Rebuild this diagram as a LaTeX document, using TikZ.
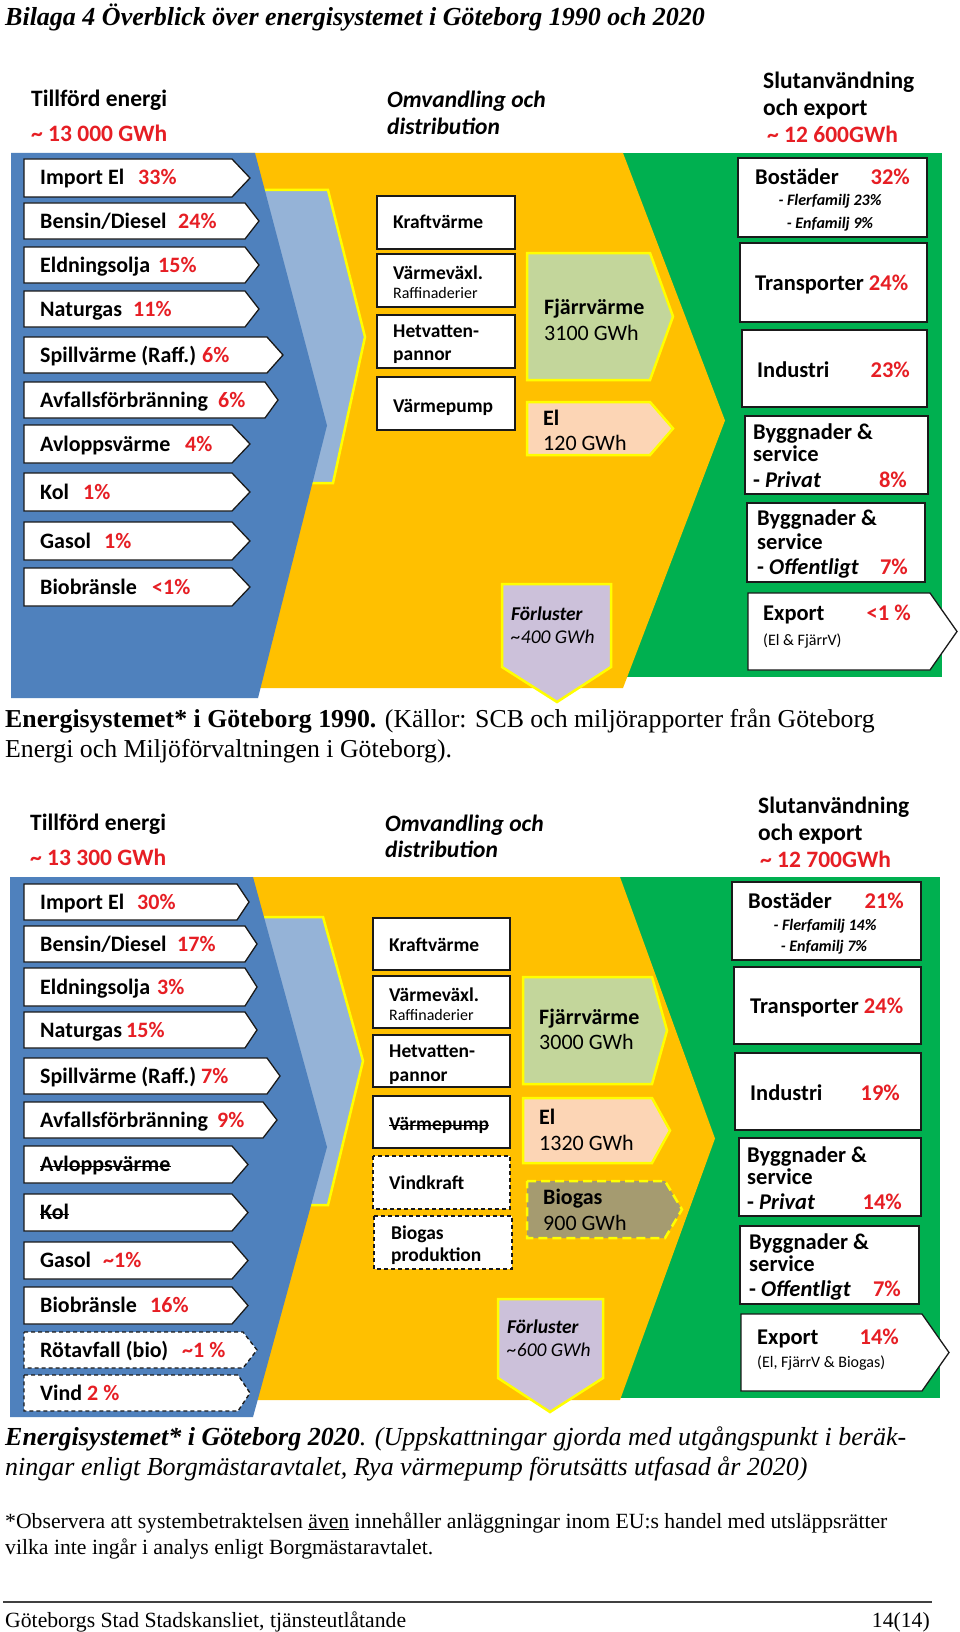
\documentclass[tikz,border=0pt]{standalone}
\usepackage{fontspec}
\setmainfont{Liberation Serif}
\newfontfamily\calf{Carlito}
\definecolor{dblue}{HTML}{4F81BD}
\definecolor{lblue}{HTML}{95B3D7}
\definecolor{gold}{HTML}{FFC000}
\definecolor{grn}{HTML}{00B050}
\definecolor{yel}{HTML}{FFFF00}
\definecolor{fjv}{HTML}{C3D69B}
\definecolor{elc}{HTML}{FCD5B5}
\definecolor{bioc}{HTML}{A59B70}
\definecolor{lav}{HTML}{CCC1DA}
\definecolor{pct}{RGB}{230,30,36}
\definecolor{boxline}{HTML}{1A1A1A}
\tikzset{
  inbox/.style={fill=white, draw=boxline, line width=1.3pt},
  mbox/.style={fill=white, draw=boxline, line width=1.3pt},
  rbox/.style={fill=white, draw=boxline, line width=1.3pt},
  dashbox/.style={dash pattern=on 4pt off 3pt},
  lbl/.style={inner sep=0pt, anchor=base west, font={\calf\bfseries\fontsize{22}{24}\selectfont}},
  rlbl/.style={inner sep=0pt, anchor=base west, font={\calf\bfseries\fontsize{22.5}{24}\selectfont}},
  pctlbl/.style={lbl, text=pct},
  rpct/.style={rlbl, text=pct, anchor=base east},
  hdr/.style={inner sep=0pt, anchor=base west, font={\calf\bfseries\fontsize{23.5}{28}\selectfont}},
  hdri/.style={hdr, font={\calf\bfseries\itshape\fontsize{23.5}{28}\selectfont}},
  midt/.style={inner sep=0pt, anchor=base west, font={\calf\bfseries\fontsize{19.5}{21}\selectfont}},
  smallt/.style={inner sep=0pt, anchor=base west, font={\calf\fontsize{16}{18}\selectfont}},
  flowb/.style={inner sep=0pt, anchor=base west, font={\calf\bfseries\fontsize{22}{25}\selectfont}},
  flowr/.style={inner sep=0pt, anchor=base west, font={\calf\fontsize{22}{25}\selectfont}},
  lossb/.style={inner sep=0pt, anchor=base west, font={\calf\bfseries\itshape\fontsize{19.5}{22}\selectfont}},
  lossr/.style={inner sep=0pt, anchor=base west, font={\calf\itshape\fontsize{19.5}{22}\selectfont}},
  subt/.style={inner sep=0pt, anchor=base, font={\calf\bfseries\itshape\fontsize{16}{18}\selectfont}},
  expt/.style={inner sep=0pt, anchor=base west, font={\calf\fontsize{16}{18}\selectfont}},
  yb/.style={draw=yel, line width=2.5pt},
  strike/.style={line width=1.3pt, draw=black},
  captxt/.style={inner sep=0pt, anchor=base west, font={\fontsize{25.8}{30}\selectfont}},
  captxtb/.style={inner sep=0pt, anchor=base west, font={\fontsize{26}{30}\selectfont}},
  foottxt/.style={inner sep=0pt, anchor=base west, font={\fontsize{21.7}{25}\selectfont}},
}
% name, ytop, ybot, rect end x, tip x, extra style, label, pct x, pct
\newcommand\InArrow[9]{%
  \path[inbox,#6] (24,#2) -- (#4,#2) -- (#5,{(#2+#3)/2}) -- (#4,#3) -- (24,#3) -- cycle;
  \node[lbl] (#1) at (40,{(#2+#3)/2+7}) {#7};
  \node[pctlbl] (#1p) at (#8,{(#2+#3)/2+7}) {#9};
}
\begin{document}
\begin{tikzpicture}[x=1pt,y=-1pt]
\useasboundingbox (0,0) rectangle (960,1632);
\fill[white] (0,0) rectangle (960,1632);

% ---------- title ----------
\node[inner sep=0pt, anchor=base west, font={\bfseries\itshape\fontsize{26}{30}\selectfont}] (title) at (5,26)
  {Bilaga 4 Överblick över energisystemet i Göteborg 1990 och 2020};

% ================= 1990 =================
\node[hdr] (t-h1) at (31,107) {Tillförd energi};
\node[hdr, text=pct] (t-h1v) at (31,142) {\textasciitilde\ 13 000 GWh};
\node[hdri] (t-h2) at (387,108) {Omvandling och};
\node[hdri] (t-h2b) at (387,135) {distribution};
\node[hdr] (t-h3) at (763,89) {Slutanvändning};
\node[hdr] (t-h3b) at (763,116) {och export};
\node[hdr, text=pct] (t-h3v) at (767,143) {\textasciitilde\ 12 600GWh};

\fill[grn] (600,153) rectangle (942,677);
\fill[gold] (240,153) -- (623,153) -- (725,420.5) -- (623,688) -- (240,688) -- cycle;
\fill[lblue] (240,190) -- (328,190) -- (365,337) -- (333,483) -- (240,483) -- cycle;
\draw[yb] (240,190) -- (328,190) -- (365,337) -- (333,483) -- (240,483);
\fill[dblue] (11,153) -- (255,153) -- (327,425.5) -- (258,698) -- (11,698) -- cycle;

\InArrow{t-imp}{159}{197}{232}{250}{}{Import El}{138}{33\%}
\InArrow{t-ben}{203}{239}{245}{259}{}{Bensin/Diesel}{178}{24\%}
\InArrow{t-eld}{247}{283}{245}{259}{}{Eldningsolja}{158}{15\%}
\InArrow{t-nat}{291}{327}{245}{259}{}{Naturgas}{133}{11\%}
\InArrow{t-spi}{337}{373}{267}{283}{}{Spillvärme (Raff.)}{202}{6\%}
\InArrow{t-avf}{382}{418}{265}{278}{}{Avfallsförbränning}{218}{6\%}
\InArrow{t-avl}{425}{463}{232}{250}{}{Avloppsvärme}{185}{4\%}
\InArrow{t-kol}{473}{511}{232}{250}{}{Kol}{83}{1\%}
\InArrow{t-gas}{522}{560}{232}{250}{}{Gasol}{104}{1\%}
\InArrow{t-bio}{568}{606}{232}{250}{}{Biobränsle}{152}{<1\%}

\path[mbox] (377,196) rectangle (515,249);
\path[mbox] (377,254) rectangle (515,307);
\path[mbox] (377,315) rectangle (515,368);
\path[mbox] (377,377) rectangle (515,430);
\node[midt] (t-kv) at (393,229) {Kraftvärme};
\node[midt] (t-vv) at (393,279) {Värmeväxl.};
\node[smallt] (t-raf) at (393,298) {Raffinaderier};
\node[midt] (t-hv) at (393,337) {Hetvatten-};
\node[midt] (t-pa) at (393,360) {pannor};
\node[midt] (t-vp) at (393,412) {Värmepump};

\path[fill=fjv, yb] (527,253) -- (650,253) -- (673,316.5) -- (650,380) -- (527,380) -- cycle;
\node[flowb] (t-fj) at (544,314) {Fjärrvärme};
\node[flowr] (t-fjv) at (544,340) {3100 GWh};
\path[fill=elc, yb] (527,402) -- (650,402) -- (673,428.5) -- (650,455) -- (527,455) -- cycle;
\node[flowb] (t-el) at (543,425) {El};
\node[flowr] (t-elv) at (543,450) {120 GWh};

\path[fill=lav, yb] (502,584) -- (611,584) -- (611,667) -- (557,702) -- (502,667) -- cycle;
\node[lossb] (t-fl) at (511,620) {Förluster};
\node[lossr] (t-flv) at (511,643) {\textasciitilde 400 GWh};

\path[rbox] (738,158) rectangle (927,237);
\node[rlbl] (t-bos) at (755,185) {Bostäder};
\node[rpct] (t-bosp) at (910,185) {32\%};
\node[subt] (t-fler) at (830,206) {- Flerfamilj 23\%};
\node[subt] (t-enf) at (830,228) {- Enfamilj 9\%};
\path[rbox] (740,243) rectangle (927,322);
\node[rlbl] (t-tra) at (755,290) {Transporter \textcolor{pct}{24\%}};
\path[rbox] (742,330) rectangle (927,407);
\node[rlbl] (t-ind) at (757,377) {Industri};
\node[rpct] (t-indp) at (910,377) {23\%};
\path[rbox] (745,416) rectangle (928,494);
\node[rlbl] (t-pr1) at (753,439) {Byggnader \&};
\node[rlbl] (t-pr2) at (753,461) {service};
\node[rlbl] (t-pr3) at (753,487) {- \textit{Privat}};
\node[rpct] (t-prp) at (907,487) {8\%};
\path[rbox] (747,503) rectangle (925,582);
\node[rlbl] (t-of1) at (757,525) {Byggnader \&};
\node[rlbl] (t-of2) at (757,549) {service};
\node[rlbl] (t-of3) at (757,574) {- \textit{Offentligt}};
\node[rpct] (t-ofp) at (908,574) {7\%};
\path[rbox] (748,593) -- (930,593) -- (957,631.5) -- (930,670) -- (748,670) -- cycle;
\node[rlbl] (t-ex) at (763,620) {Export};
\node[rpct] (t-exp) at (911,620) {<1 \%};
\node[expt] (t-exs) at (763,645) {(El \& FjärrV)};

\node[captxt] (c1a) at (5,727) {\textbf{Energisystemet* i Göteborg 1990.} (Källor: SCB och miljörapporter från Göteborg};
\node[captxt] (c1b) at (5,757) {Energi och Miljöförvaltningen i Göteborg).};

% ================= 2020 =================
\node[hdr] (b-h1) at (30,830) {Tillförd energi};
\node[hdr, text=pct] (b-h1v) at (30,865) {\textasciitilde\ 13 300 GWh};
\node[hdri] (b-h2) at (385,831) {Omvandling och};
\node[hdri] (b-h2b) at (385,857) {distribution};
\node[hdr] (b-h3) at (758,813) {Slutanvändning};
\node[hdr] (b-h3b) at (758,840) {och export};
\node[hdr, text=pct] (b-h3v) at (760,867) {\textasciitilde\ 12 700GWh};

\fill[grn] (600,877) rectangle (940,1398);
\fill[gold] (240,877) -- (620,877) -- (715,1138.5) -- (620,1400) -- (240,1400) -- cycle;
\fill[lblue] (240,917) -- (323,917) -- (363,1061) -- (328,1205) -- (240,1205) -- cycle;
\draw[yb] (240,917) -- (323,917) -- (363,1061) -- (328,1205) -- (240,1205);
\fill[dblue] (10,877) -- (253,877) -- (327,1147) -- (253,1417) -- (10,1417) -- cycle;

\InArrow{b-imp}{884}{920}{237}{249}{}{Import El}{137}{30\%}
\InArrow{b-ben}{926}{962}{245}{257}{}{Bensin/Diesel}{177}{17\%}
\InArrow{b-eld}{968}{1006}{245}{257}{}{Eldningsolja}{157}{3\%}
\InArrow{b-nat}{1012}{1048}{245}{257}{}{Naturgas}{126}{15\%}
\InArrow{b-spi}{1058}{1094}{267}{280}{}{Spillvärme (Raff.)}{201}{7\%}
\InArrow{b-avf}{1102}{1138}{263}{277}{}{Avfallsförbränning}{217}{9\%}
\InArrow{b-avl}{1146}{1183}{232}{248}{}{Avloppsvärme}{185}{}
\InArrow{b-kol}{1194}{1231}{232}{248}{}{Kol}{83}{}
\InArrow{b-gas}{1242}{1279}{232}{248}{}{Gasol}{103}{\textasciitilde 1\%}
\InArrow{b-bio}{1287}{1324}{232}{248}{}{Biobränsle}{150}{16\%}
\InArrow{b-rot}{1332}{1368}{243}{257}{dashbox}{Rötavfall (bio)}{182}{\textasciitilde 1 \%}
\InArrow{b-vin}{1375}{1411}{238}{250}{dashbox}{Vind}{87}{2 \%}
\draw[strike] ([yshift=5pt]b-avl.base west) -- ([yshift=5pt]b-avl.base east);
\draw[strike] ([yshift=5pt]b-kol.base west) -- ([yshift=5pt]b-kol.base east);

\path[mbox] (373,918) rectangle (510,970);
\path[mbox] (373,976) rectangle (510,1028);
\path[mbox] (373,1035) rectangle (510,1087);
\path[mbox] (373,1096) rectangle (510,1148);
\path[mbox, dashbox] (373,1156) rectangle (510,1209);
\path[mbox, dashbox] (374,1216) rectangle (512,1269);
\node[midt] (b-kv) at (389,951) {Kraftvärme};
\node[midt] (b-vv) at (389,1001) {Värmeväxl.};
\node[smallt] (b-raf) at (389,1020) {Raffinaderier};
\node[midt] (b-hv) at (389,1057) {Hetvatten-};
\node[midt] (b-pa) at (389,1081) {pannor};
\node[midt] (b-vp) at (389,1130) {Värmepump};
\draw[strike] ([yshift=4.5pt]b-vp.base west) -- ([yshift=4.5pt]b-vp.base east);
\node[midt] (b-vk) at (389,1189) {Vindkraft};
\node[midt] (b-bg1) at (391,1239) {Biogas};
\node[midt] (b-bg2) at (391,1261) {produktion};

\path[fill=fjv, yb] (523,977) -- (652,977) -- (667,1030.5) -- (652,1084) -- (523,1084) -- cycle;
\node[flowb] (b-fj) at (539,1024) {Fjärrvärme};
\node[flowr] (b-fjv) at (539,1049) {3000 GWh};
\path[fill=elc, yb] (523,1098) -- (652,1098) -- (670,1130.5) -- (652,1163) -- (523,1163) -- cycle;
\node[flowb] (b-el) at (539,1124) {El};
\node[flowr] (b-elv) at (539,1150) {1320 GWh};
\path[fill=bioc, yb, dash pattern=on 9pt off 5pt] (527,1181) -- (665,1181) -- (682,1209.5) -- (665,1238) -- (527,1238) -- cycle;
\node[flowb] (b-bgf) at (543,1204) {Biogas};
\node[flowr] (b-bgv) at (543,1230) {900 GWh};

\path[fill=lav, yb] (498,1299) -- (603,1299) -- (603,1378) -- (550,1412) -- (498,1378) -- cycle;
\node[lossb] (b-fl) at (507,1333) {Förluster};
\node[lossr] (b-flv) at (507,1356) {\textasciitilde 600 GWh};

\path[rbox] (732,882) rectangle (921,960);
\node[rlbl] (b-bos) at (748,908) {Bostäder};
\node[rpct] (b-bosp) at (904,908) {21\%};
\node[subt] (b-fler) at (825,930) {- Flerfamilj 14\%};
\node[subt] (b-enf) at (824,951) {- Enfamilj 7\%};
\path[rbox] (734,967) rectangle (921,1044);
\node[rlbl] (b-tra) at (750,1013) {Transporter \textcolor{pct}{24\%}};
\path[rbox] (735,1053) rectangle (921,1130);
\node[rlbl] (b-ind) at (750,1100) {Industri};
\node[rpct] (b-indp) at (900,1100) {19\%};
\path[rbox] (739,1138) rectangle (921,1216);
\node[rlbl] (b-pr1) at (747,1162) {Byggnader \&};
\node[rlbl] (b-pr2) at (747,1184) {service};
\node[rlbl] (b-pr3) at (747,1209) {- \textit{Privat}};
\node[rpct] (b-prp) at (902,1209) {14\%};
\path[rbox] (740,1226) rectangle (919,1304);
\node[rlbl] (b-of1) at (749,1249) {Byggnader \&};
\node[rlbl] (b-of2) at (749,1271) {service};
\node[rlbl] (b-of3) at (749,1296) {- \textit{Offentligt}};
\node[rpct] (b-ofp) at (901,1296) {7\%};
\path[rbox] (741,1314) -- (922,1314) -- (949,1352.5) -- (922,1391) -- (741,1391) -- cycle;
\node[rlbl] (b-ex) at (757,1344) {Export};
\node[rpct] (b-exp) at (899,1344) {14\%};
\node[expt] (b-exs) at (757,1367) {(El, FjärrV \& Biogas)};

\node[captxtb] (c2a) at (5,1445) {\itshape\textbf{Energisystemet* i Göteborg 2020}. (Uppskattningar gjorda med utgångspunkt i beräk-};
\node[captxtb] (c2b) at (5,1475) {\itshape ningar enligt Borgmästaravtalet, Rya värmepump förutsätts utfasad år 2020)};

\node[foottxt] (n1) at (5,1528) {*Observera att systembetraktelsen \underline{även} innehåller anläggningar inom EU:s handel med utsläppsrätter};
\node[foottxt] (n2) at (5,1554) {vilka inte ingår i analys enligt Borgmästaravtalet.};

\draw[line width=1.2pt, draw=black!75] (3,1602) -- (932,1602);
\node[foottxt] (f1) at (5,1627) {Göteborgs Stad Stadskansliet, tjänsteutlåtande};
\node[foottxt, anchor=base east] (f2) at (930,1627) {14(14)};
\end{tikzpicture}
\end{document}
